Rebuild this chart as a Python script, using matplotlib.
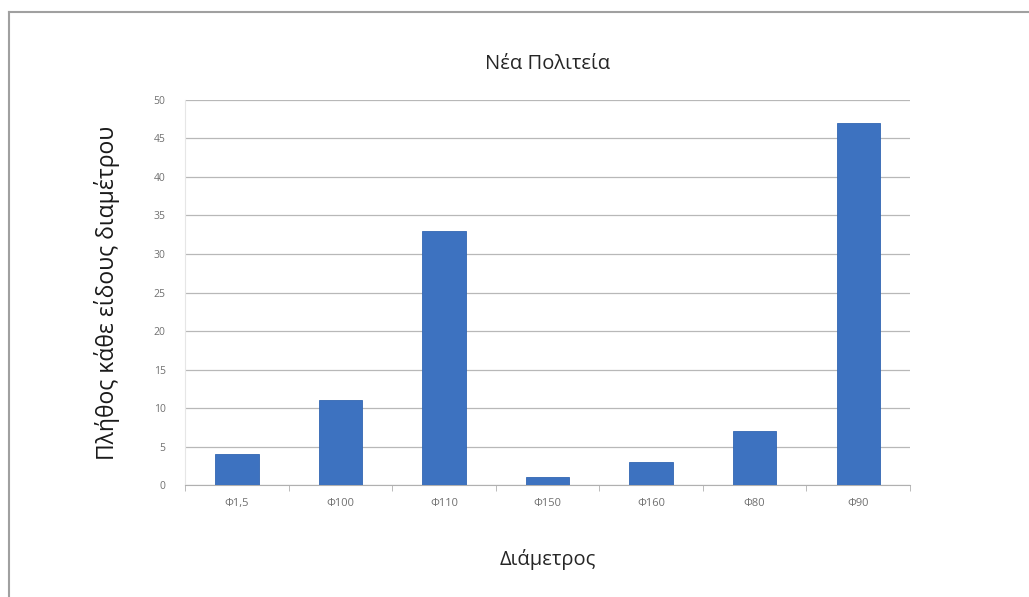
import matplotlib
matplotlib.use("Agg")
import matplotlib.pyplot as plt
from matplotlib.lines import Line2D

categories = ["Φ1,5", "Φ100", "Φ110", "Φ150", "Φ160", "Φ80", "Φ90"]
counts = [4, 11, 33, 1, 3, 7, 47]
y_ticks = list(range(0, 51, 5))

plt.rcParams["font.family"] = ["Open Sans", "Noto Sans", "DejaVu Sans"]

fig = plt.figure(figsize=(10.29, 5.97), dpi=100)
fig.patch.set_facecolor("white")

# outer frame of the chart area (top and left edges)
fig.add_artist(Line2D([9 / 1029, 1.0], [1 - 12 / 597, 1 - 12 / 597],
                      transform=fig.transFigure, color="#a0a0a0", lw=1.5))
fig.add_artist(Line2D([9 / 1029, 9 / 1029], [0.0, 1 - 12 / 597],
                      transform=fig.transFigure, color="#a0a0a0", lw=1.5))

ax = fig.add_axes([0.1798, 0.1876, 0.7046, 0.6449])
x = range(len(categories))
ax.bar(x, counts, width=0.42, color="#3d72c0", edgecolor="#3266b2",
       linewidth=0.6, zorder=3)

ax.set_xlim(-0.5, len(categories) - 0.5)
ax.set_ylim(0, 50)
ax.set_yticks(y_ticks)
ax.set_yticklabels([str(v) for v in y_ticks], fontsize=7.5, color="#707070")
ax.set_xticks(list(x))
ax.set_xticklabels(categories, fontsize=8, color="#707070")
ax.tick_params(axis="y", length=0, pad=14)
ax.tick_params(axis="x", length=0, pad=9)

# category boundary ticks on the horizontal axis
ax.set_xticks([i - 0.5 for i in range(len(categories) + 1)], minor=True)
ax.tick_params(axis="x", which="minor", length=4, color="#b0b0b0")

ax.grid(axis="y", color="#b8b8b8", linewidth=0.9, zorder=0)
for side in ("top", "right"):
    ax.spines[side].set_visible(False)
ax.spines["left"].set_color("#e6e6e6")
ax.spines["bottom"].set_color("#b0b0b0")

ax.set_title("Νέα Πολιτεία", fontsize=14.5, color="#262626", pad=22)
ax.set_xlabel("Διάμετρος", fontsize=14.5, color="#262626", labelpad=29)
ax.set_ylabel("Πλήθος κάθε είδους διαμέτρου", fontsize=16.5, color="#1a1a1a",
              labelpad=24)

fig.savefig("out.png", dpi=100)
